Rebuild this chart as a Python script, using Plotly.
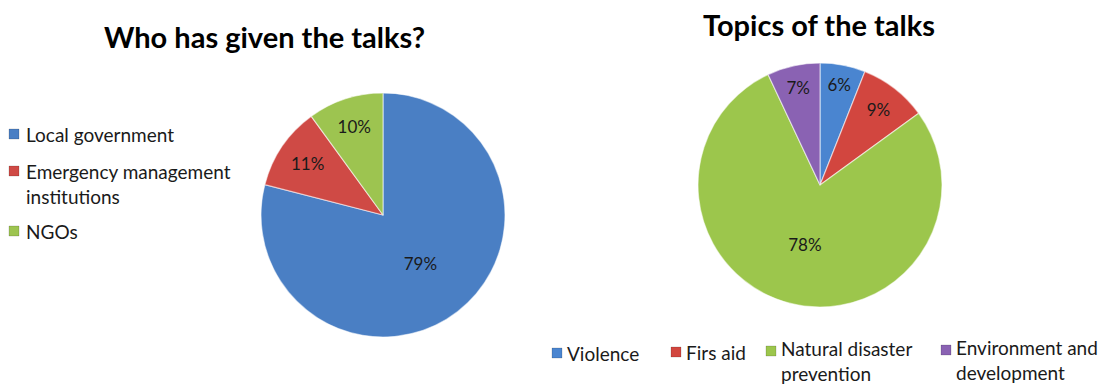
import plotly.graph_objects as go

W, H = 1107, 386

# Left chart: who gave the talks
giver_labels = ["Local government", "Emergency management<br>institutions", "NGOs"]
giver_values = [79, 11, 10]
giver_colors = ["#4A7FC4", "#CF4A45", "#9DC450"]

# Right chart: topics of the talks
topic_labels = ["Violence", "Firs aid", "Natural disaster<br>prevention", "Environment and<br>development"]
topic_values = [6, 9, 78, 7]
topic_colors = ["#4A85D0", "#D2463F", "#9CC64C", "#8A62B3"]

FONT = "Lato, 'Open Sans', sans-serif"
TEXT_COLOR = "#1a1a1a"


def px_x(x):
    return x / W


def px_y(y):
    return 1 - y / H


def square_domain(cx, cy, r):
    return dict(x=[px_x(cx - r), px_x(cx + r)], y=[px_y(cy + r), px_y(cy - r)])


fig = go.Figure()

fig.add_trace(go.Pie(
    labels=giver_labels, values=giver_values, sort=False, direction="clockwise",
    rotation=0, domain=square_domain(383, 215, 122),
    marker=dict(colors=giver_colors, line=dict(color="rgba(255,255,255,0.55)", width=1.2)),
    textinfo="percent", textposition="inside", insidetextorientation="horizontal",
    textfont=dict(family=FONT, size=17, color=TEXT_COLOR),
    showlegend=False, hoverinfo="label+percent",
))

fig.add_trace(go.Pie(
    labels=topic_labels, values=topic_values, sort=False, direction="clockwise",
    rotation=0, domain=square_domain(820, 185, 122),
    marker=dict(colors=topic_colors, line=dict(color="rgba(255,255,255,0.55)", width=1.2)),
    textinfo="percent", textposition="inside", insidetextorientation="horizontal",
    textfont=dict(family=FONT, size=17, color=TEXT_COLOR),
    showlegend=False, hoverinfo="label+percent",
))

shapes = []
annotations = []

# Titles
annotations.append(dict(text="<b>Who has given the talks?</b>", x=px_x(264), y=px_y(36),
                        xref="paper", yref="paper", showarrow=False, xanchor="center", yanchor="middle",
                        font=dict(family=FONT, size=29, color="#000000")))
annotations.append(dict(text="<b>Topics of the talks</b>", x=px_x(819), y=px_y(24),
                        xref="paper", yref="paper", showarrow=False, xanchor="center", yanchor="middle",
                        font=dict(family=FONT, size=29, color="#000000")))


def legend_key(x0, yc, color, size=10):
    shapes.append(dict(type="rect", xref="paper", yref="paper",
                       x0=px_x(x0), x1=px_x(x0 + size),
                       y0=px_y(yc + size / 2), y1=px_y(yc - size / 2),
                       fillcolor=color, line=dict(color="rgba(0,0,0,0.25)", width=0.6)))


def legend_text(x, yc, text):
    annotations.append(dict(text=text, x=px_x(x), y=px_y(yc), xref="paper", yref="paper",
                            showarrow=False, xanchor="left", yanchor="middle", align="left",
                            font=dict(family=FONT, size=19, color=TEXT_COLOR)))


# Vertical legend for the left chart
left_rows = [(134, 134), (171, 184), (231, 231)]
for (key_y, text_y), lab, col in zip(left_rows, giver_labels, giver_colors):
    legend_key(9, key_y, col)
    legend_text(24, text_y, lab)

# Horizontal legend for the right chart
right_items = [(552, 353, 353), (671, 352, 352), (766, 351, 361), (941, 350, 360)]
for (kx, ky, ty), lab, col in zip(right_items, topic_labels, topic_colors):
    legend_key(kx, ky, col)
    legend_text(kx + 13, ty, lab)

fig.update_layout(
    width=W, height=H,
    margin=dict(l=0, r=0, t=0, b=0),
    paper_bgcolor="white", plot_bgcolor="white",
    shapes=shapes, annotations=annotations,
    showlegend=False,
)

fig.write_html("out.html")
